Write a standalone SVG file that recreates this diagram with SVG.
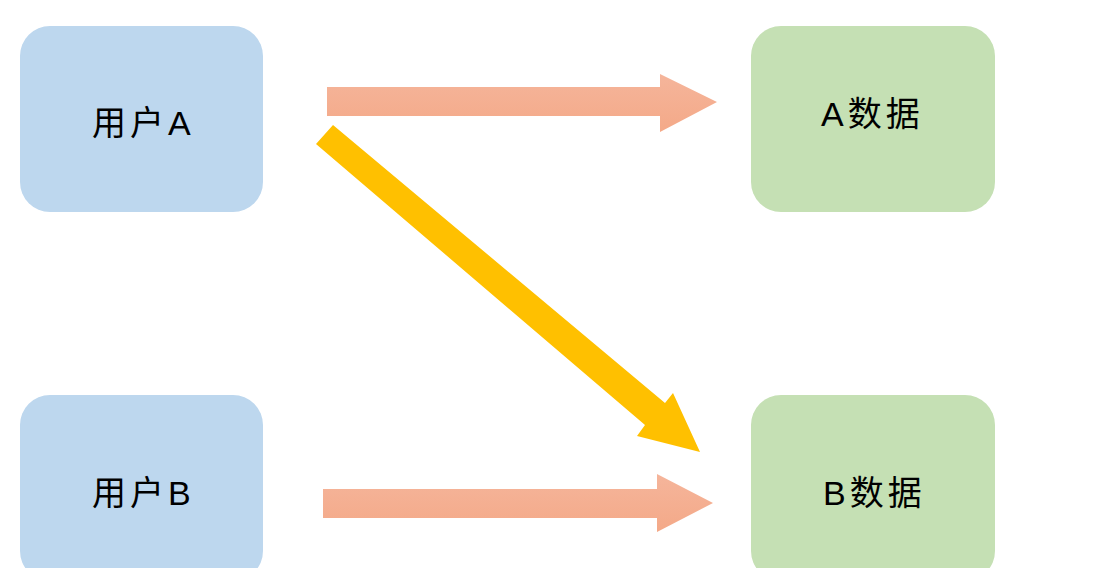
<svg xmlns="http://www.w3.org/2000/svg" width="1093" height="578" viewBox="0 0 1093 578">
  <style>
    .user { fill: #BDD7EE; }
    .data { fill: #C5E0B4; }
    .label { font-family: "Liberation Sans", "Noto Sans CJK SC", sans-serif; font-size: 34px; fill: #000; letter-spacing: 4px; }
  </style>
  <defs>
    <linearGradient id="salmon" x1="0" y1="0" x2="0" y2="1">
      <stop offset="0" stop-color="#F5B59B"/>
      <stop offset="1" stop-color="#F4A988"/>
    </linearGradient>
    <clipPath id="cut">
      <rect x="0" y="0" width="1093" height="568"/>
    </clipPath>
  </defs>
  <rect width="1093" height="578" fill="#FFFFFF"/>
  <g id="userA">
    <rect class="user" x="20" y="26" width="243" height="186" rx="30" ry="30"/>
    <text class="label" x="92" y="135">用户A</text>
  </g>
  <g id="userB">
    <rect class="user" x="20" y="395" width="243" height="186" rx="30" ry="30" clip-path="url(#cut)"/>
    <text class="label" x="92" y="505">用户B</text>
  </g>
  <g id="dataA">
    <rect class="data" x="751" y="26" width="244" height="186" rx="30" ry="30"/>
    <text class="label" x="821" y="126">A数据</text>
  </g>
  <g id="dataB">
    <rect class="data" x="751" y="395" width="244" height="186" rx="30" ry="30" clip-path="url(#cut)"/>
    <text class="label" x="823" y="505">B数据</text>
  </g>
  <g id="connectors">
    <polygon fill="url(#salmon)" points="327,87 660,87 660,74 717,102 660,132 660,116 327,116"/>
    <polygon fill="url(#salmon)" points="323,489 657,489 657,474 713,503 657,532 657,518 323,518"/>
    <polygon fill="#FFC000" points="333,125 665,403 673,393 700,452 637,436 645,425 316,144"/>
  </g>
</svg>
